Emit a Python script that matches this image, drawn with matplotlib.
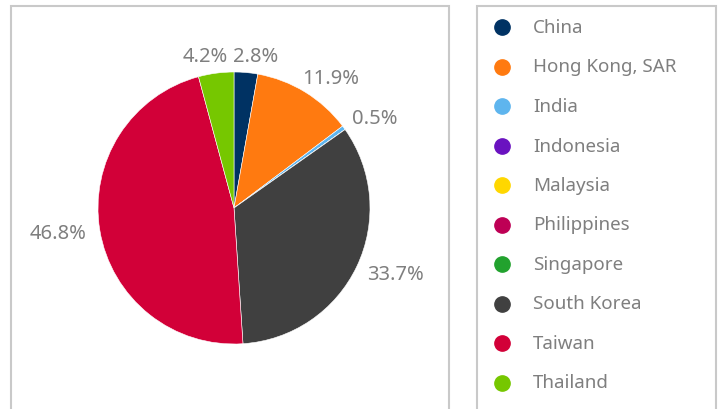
import matplotlib
matplotlib.use("Agg")
import matplotlib.pyplot as plt
import numpy as np

categories = ["China", "Hong Kong, SAR", "India", "Indonesia", "Malaysia",
              "Philippines", "Singapore", "South Korea", "Taiwan", "Thailand"]
values = [2.8, 11.9, 0.5, 0.0, 0.0, 0.0, 0.0, 33.7, 46.8, 4.2]
colors = ["#003263", "#FF7A10", "#5EB5EE", "#6A12C0", "#FFD700",
          "#BE0055", "#22A22E", "#404040", "#D20038", "#76C700"]

W, H = 722, 410
fig = plt.figure(figsize=(W / 100, H / 100), dpi=100)
plt.rcParams['font.family'] = ['Noto Sans', 'DejaVu Sans']
ax = fig.add_axes([0, 0, 1, 1])

cx, cy, R = 234, H - 209, 136
wedges, _ = ax.pie(values, colors=colors, startangle=90, counterclock=False,
                   center=(cx, cy), radius=R, frame=True,
                   wedgeprops=dict(linewidth=0.4, edgecolor="white"))
ax.set_xlim(0, W)
ax.set_ylim(0, H)
ax.set_aspect("equal")
ax.axis("off")

fig.canvas.draw()
renderer = fig.canvas.get_renderer()
label_color = "#7F7F7F"
for w, v in zip(wedges, values):
    if v <= 0:
        continue
    mid = np.deg2rad((w.theta1 + w.theta2) / 2)
    t = ax.text(0, 0, f"{v:.1f}%", fontsize=14.5, color=label_color,
                ha="center", va="center")
    bb = t.get_window_extent(renderer)
    tw, th = bb.width, bb.height
    d = R + 7
    x = cx + d * np.cos(mid) + tw / 2 * np.cos(mid) + 7 * np.sign(np.cos(mid))
    y = cy + d * np.sin(mid) + th / 2 * np.sin(mid)
    t.set_position((x, y))

# Boxes
box_col = "#C9C9C9"
for (x0, x1) in [(11, 449), (477, 716)]:
    ax.plot([x0, x0, x1, x1], [0, H - 7, H - 7, 0], color=box_col, lw=1.5,
            solid_joinstyle="miter", clip_on=False)

# Legend
for i, (c, col) in enumerate(zip(categories, colors)):
    y = H - (28 + i * 39.5)
    ax.plot([502], [y], marker="o", ms=11, color=col, mec=col, clip_on=False)
    ax.text(533, y, c, fontsize=13.5, color=label_color, ha="left", va="center")

fig.savefig("out.png", dpi=100)
